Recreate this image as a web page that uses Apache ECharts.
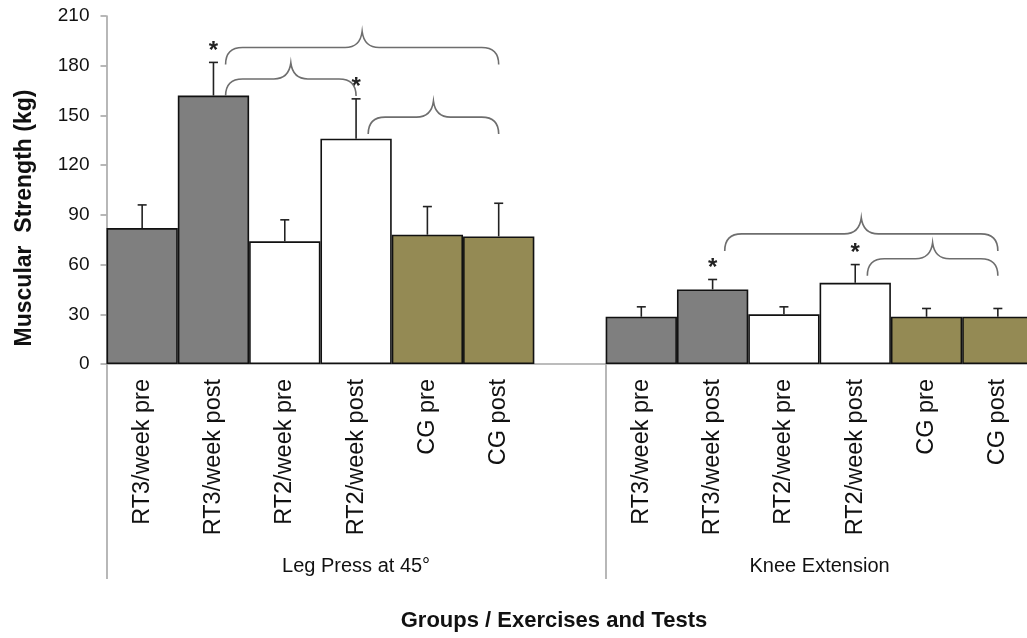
<!DOCTYPE html>
<html>
<head>
<meta charset="utf-8">
<script src="https://cdn.jsdelivr.net/npm/echarts@6/dist/echarts.min.js"></script>
<style>
  html, body { margin: 0; padding: 0; background: #ffffff; }
  #chart { width: 1027px; height: 638px; }
</style>
</head>
<body>
<div id="chart"></div>
<script>
// Muscular strength (kg), mean with upper SD, per group and test.
// Slot 6 is an empty spacer between the two exercises.
const categories = [
  'RT3/week pre', 'RT3/week post', 'RT2/week pre', 'RT2/week post', 'CG pre', 'CG post',
  '',
  'RT3/week pre', 'RT3/week post', 'RT2/week pre', 'RT2/week post', 'CG pre', 'CG post'
];
const groupOf = ['RT3', 'RT3', 'RT2', 'RT2', 'CG', 'CG', null, 'RT3', 'RT3', 'RT2', 'RT2', 'CG', 'CG'];
const strengthMean = [82, 162, 74, 136, 78, 77, null, 28.5, 45, 30, 49, 28.5, 28.5];
const strengthSD = [14, 20, 13, 24, 17, 20, null, 6, 6, 4.5, 11, 5, 5];
const significant = [0, 1, 0, 1, 0, 0, 0, 0, 1, 0, 1, 0, 0];

// Exercise blocks on the category axis: [label, first slot, last slot]
const exercises = [
  ['Leg Press at 45°', 0, 6],
  ['Knee Extension', 7, 12]
];

// Comparison braces: [from slot, to slot, level in kg]
const braces = [
  [1, 5, 191],
  [1, 3, 172],
  [3, 5, 149],
  [8, 12, 78.5],
  [10, 12, 63.5]
];

const yTicks = { min: 0, max: 210, interval: 30 };

const palette = { RT3: '#7f7f7f', RT2: '#ffffff', CG: '#948a54' };
const axisGray = '#a6a6a6';
const fontFamily = "'Liberation Sans', Arial, sans-serif";

const chart = echarts.init(document.getElementById('chart'), null, { renderer: 'canvas' });

const barData = strengthMean.map((v, i) => ({
  value: v == null ? '-' : v,
  itemStyle: { color: groupOf[i] ? palette[groupOf[i]] : 'transparent' }
}));

const errData = strengthMean
  .map((v, i) => (v == null ? null : [i, v, strengthSD[i], significant[i]]))
  .filter(d => d);

function bandWidth(api) {
  return api.coord([1, 0])[0] - api.coord([0, 0])[0];
}

function renderError(params, api) {
  const idx = api.value(0), mean = api.value(1), sd = api.value(2), sig = api.value(3);
  const base = api.coord([idx, mean]);
  const top = api.coord([idx, mean + sd]);
  const style = { stroke: '#222', lineWidth: 1.6 };
  const children = [
    { type: 'line', shape: { x1: base[0], y1: base[1], x2: top[0], y2: top[1] }, style },
    { type: 'line', shape: { x1: top[0] - 4.5, y1: top[1], x2: top[0] + 4.5, y2: top[1] }, style }
  ];
  if (sig) {
    children.push({
      type: 'text',
      style: {
        text: '*', x: top[0], y: top[1] - 11,
        align: 'center', verticalAlign: 'middle',
        fontSize: 24, fontWeight: 'bold', fontFamily, fill: '#222'
      }
    });
  }
  return { type: 'group', children };
}

function renderBrace(params, api) {
  const bw = bandWidth(api);
  const lvl = api.value(2);
  const x1 = api.coord([api.value(0), lvl])[0] + bw * 0.17;
  const x2 = api.coord([api.value(1), lvl])[0];
  const y = api.coord([0, lvl])[1];
  const r = 17, drop = 17, rise = 16;
  const xm = (x1 + x2) / 2;
  const path =
    'M' + x1 + ',' + (y + drop) +
    ' Q' + x1 + ',' + y + ' ' + (x1 + r) + ',' + y +
    ' L' + (xm - r) + ',' + y +
    ' Q' + (xm - 2) + ',' + y + ' ' + xm + ',' + (y - rise) +
    ' Q' + (xm + 2) + ',' + y + ' ' + (xm + r) + ',' + y +
    ' L' + (x2 - r) + ',' + y +
    ' Q' + x2 + ',' + y + ' ' + x2 + ',' + (y + drop);
  return {
    type: 'path',
    shape: { pathData: path },
    style: { stroke: '#6e6e6e', lineWidth: 1.6, fill: null }
  };
}

function renderExercise(params, api) {
  const i = api.value(2);
  const a = api.coord([api.value(0), 0]);
  const b = api.coord([api.value(1), 0]);
  return {
    type: 'text',
    style: {
      text: exercises[i][0],
      x: (a[0] + b[0]) / 2, y: a[1] + 202,
      align: 'center', verticalAlign: 'middle',
      fontSize: 20, fontFamily, fill: '#111'
    }
  };
}

const option = {
  backgroundColor: '#ffffff',
  animation: false,
  grid: {
    left: 106.5, width: 927, top: 16, bottom: 274,
    containLabel: false, outerBoundsMode: 'none'
  },
  xAxis: {
    type: 'category',
    data: categories,
    boundaryGap: true,
    axisLine: { show: true, lineStyle: { color: axisGray, width: 1.6 } },
    axisTick: {
      show: true,
      length: 215,
      interval: (index) => exercises.some(e => e[1] === index),
      lineStyle: { color: axisGray, width: 1.6 }
    },
    axisLabel: {
      interval: 0, rotate: 90, margin: 15,
      fontSize: 23.5, fontFamily, color: '#111'
    },
    splitLine: { show: false }
  },
  yAxis: {
    type: 'value',
    min: yTicks.min, max: yTicks.max, interval: yTicks.interval,
    axisLine: { show: true, lineStyle: { color: axisGray, width: 1.6 } },
    axisTick: { show: true, length: 6, lineStyle: { color: axisGray, width: 1.6 } },
    axisLabel: { margin: 17, fontSize: 19, fontFamily, color: '#111' },
    splitLine: { show: false }
  },
  series: [
    {
      type: 'bar',
      data: barData,
      barCategoryGap: '0%',
      itemStyle: { borderColor: '#111', borderWidth: 1.6 },
      z: 2
    },
    {
      type: 'custom',
      data: errData,
      encode: { x: 0, y: 1 },
      renderItem: renderError,
      z: 3
    },
    {
      type: 'custom',
      data: braces,
      encode: { x: [0, 1], y: 2 },
      renderItem: renderBrace,
      z: 4
    },
    {
      type: 'custom',
      data: exercises.map((e, i) => [e[1], e[2], i]),
      encode: { x: [0, 1], y: 2 },
      renderItem: renderExercise,
      z: 4
    }
  ],
  graphic: [
    {
      type: 'text',
      x: 25, y: 218,
      rotation: Math.PI / 2,
      style: {
        text: 'Muscular  Strength (kg)',
        align: 'center', verticalAlign: 'middle',
        fontSize: 23, fontWeight: 'bold', fontFamily, fill: '#111'
      }
    },
    {
      type: 'text',
      x: 554, y: 621,
      style: {
        text: 'Groups / Exercises and Tests',
        align: 'center', verticalAlign: 'middle',
        fontSize: 22, fontWeight: 'bold', fontFamily, fill: '#111'
      }
    }
  ]
};

chart.setOption(option);
</script>
</body>
</html>
